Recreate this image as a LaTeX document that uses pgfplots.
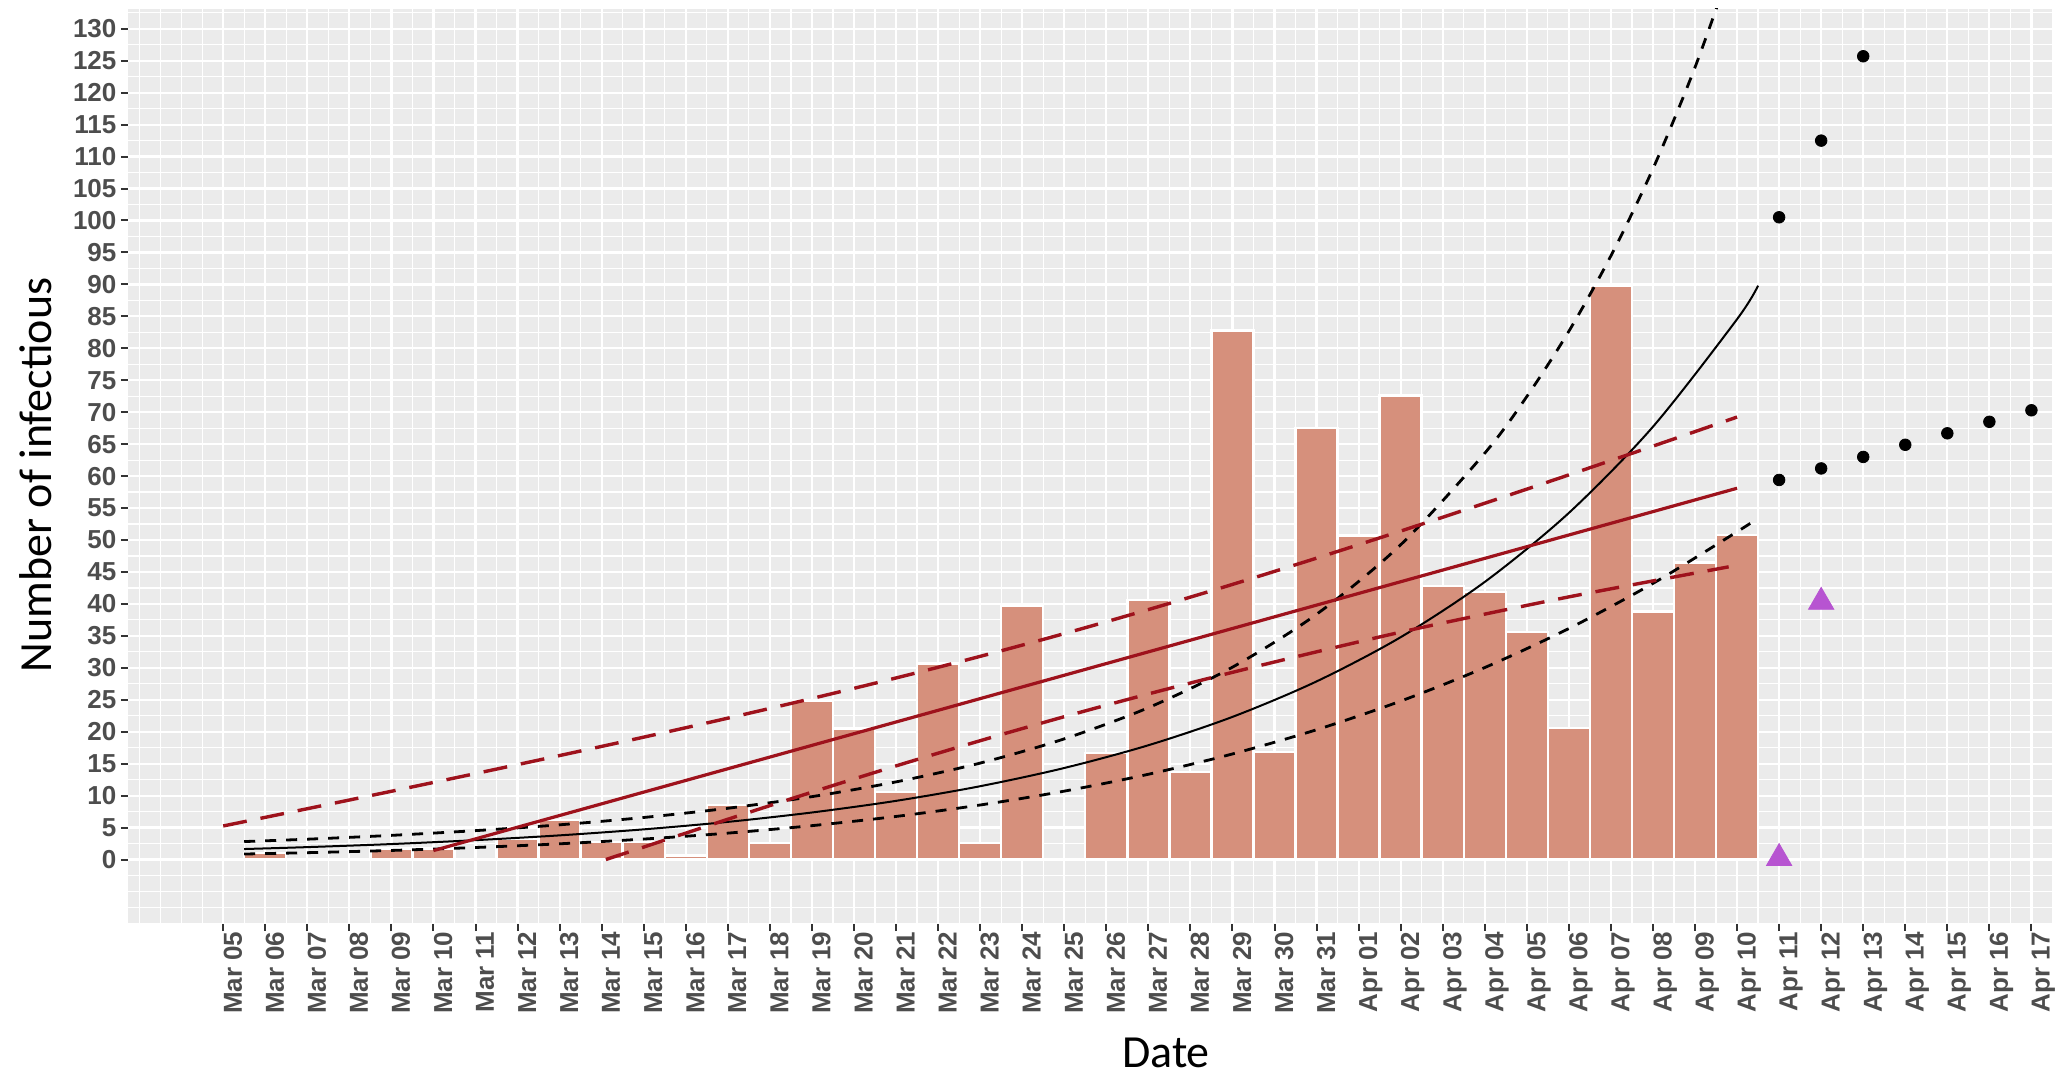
\documentclass[border=0pt]{standalone}
\usepackage{fontspec}
\setmainfont{Carlito}
\newfontfamily\tickfont{Liberation Sans}
\usepackage{pgfplots}
\pgfplotsset{compat=1.18}
\definecolor{panelbg}{RGB}{235,235,235}
\definecolor{barfill}{RGB}{214,144,124}
\definecolor{redline}{RGB}{158,18,28}
\definecolor{tickgray}{RGB}{77,77,77}
\definecolor{tickmark}{RGB}{51,51,51}
\definecolor{purp}{RGB}{183,84,209}
\begin{document}
\begin{tikzpicture}
\path[use as bounding box] (0,0) rectangle (1029.5pt,540pt);
\begin{axis}[
  at={(64pt,78pt)}, anchor=south west,
  scale only axis, width=962pt, height=457.5pt,
  xmin=-2.264, xmax=43.49, ymin=-10.09, ymax=133.1,
  axis background/.style={fill=panelbg},
  axis line style={draw=none},
  xtick={0,...,43},
  xticklabels={Mar 05,Mar 06,Mar 07,Mar 08,Mar 09,Mar 10,Mar 11,Mar 12,Mar 13,Mar 14,Mar 15,Mar 16,Mar 17,Mar 18,Mar 19,Mar 20,Mar 21,Mar 22,Mar 23,Mar 24,Mar 25,Mar 26,Mar 27,Mar 28,Mar 29,Mar 30,Mar 31,Apr 01,Apr 02,Apr 03,Apr 04,Apr 05,Apr 06,Apr 07,Apr 08,Apr 09,Apr 10,Apr 11,Apr 12,Apr 13,Apr 14,Apr 15,Apr 16,Apr 17},
  ytick={0,5,...,130},
  minor xtick={-2,-1.5,...,43.5},
  minor ytick={-10,-7.5,...,132.5},
  grid=both,
  major grid style={white, line width=1.1pt},
  minor grid style={white, line width=0.6pt},
  tick align=outside,
  xtick pos=bottom, ytick pos=left,
  major tick length=3.6pt,
  minor tick length=0pt,
  major tick style={tickmark, line width=1pt},
  minor tick style={draw=none},
  /pgf/number format/assume math mode=true,
  tick label style={font=\tickfont\bfseries\fontsize{13}{15.6}\selectfont, text=tickgray},
  xticklabel style={rotate=90, anchor=north east, inner sep=0pt},
  yticklabel style={inner sep=2pt},
  xlabel={Date},
  ylabel={Number of infectious},
  xlabel style={font=\fontsize{23}{24}\selectfont, at={(axis description cs:0.5395,-0.157)}, anchor=base, inner sep=0pt},
  ylabel style={font=\fontsize{23}{24}\selectfont, at={(axis description cs:-0.0395,0.4907)}, anchor=base, inner sep=0pt},
]
% daily bars
\addplot[ybar, bar width=1, bar shift=0pt, fill=barfill, draw=white, line width=1.2pt] coordinates {
(1,1.0) (4,1.7) (5,1.7) (7,3.2) (8,6.2) (9,2.7) (10,2.7) (11,0.6)
(12,8.5) (13,2.6) (14,24.9) (15,20.5) (16,10.6) (17,30.7) (18,2.6) (19,39.7)
(21,16.7) (22,40.6) (23,13.7) (24,82.8) (25,16.8) (26,67.5) (27,50.7) (28,72.6)
(29,42.8) (30,41.9) (31,35.6) (32,20.6) (33,89.8) (34,38.8) (35,46.5) (36,50.8)};
% exponential fit and bounds
\addplot[black, line width=1pt, smooth] coordinates {
(0.5,1.64) (2,1.94) (4,2.42) (6,3.03) (8,3.78) (10,4.72) (12,5.89) (14,7.36) (16,9.18) (18,11.47) (20,14.32) (22,17.88) (24,22.32) (26,27.87) (28,34.79) (30,43.44) (32,54.24) (34,67.73) (36,84.56) (36.5,89.8)};
\addplot[black, line width=1.4pt, dash pattern=on 5.5pt off 5pt, smooth] coordinates {
(0.5,2.81) (2,3.18) (4,3.78) (6,4.52) (8,5.43) (10,6.58) (12,8.02) (14,9.84) (16,12.15) (18,15.09) (20,18.88) (22,23.76) (24,30.10) (26,38.38) (28,49.25) (30,63.59) (31,72.45) (32,82.67) (33,94.47) (34,108.1) (35,123.97) (36,142.4)};
\addplot[black, line width=1.4pt, dash pattern=on 5.5pt off 5pt, smooth] coordinates {
(0.5,0.86) (2,1.07) (4,1.42) (6,1.88) (8,2.46) (10,3.20) (12,4.13) (14,5.30) (16,6.74) (18,8.53) (20,10.70) (22,13.34) (24,16.52) (26,20.31) (28,24.79) (30,30.04) (32,36.15) (34,43.21) (36,51.29) (36.4,53.0)};
% linear fit and bounds
\addplot[redline, line width=1.6pt] coordinates {(5,1.4) (36,58.1)};
\addplot[redline, line width=1.7pt, dash pattern=on 12pt off 7pt, smooth] coordinates {
(0,5.25) (2,7.95) (4,10.68) (6,13.45) (8,16.27) (10,19.15) (12,22.12) (14,25.20) (16,28.41) (18,31.79) (20,35.35) (22,39.11) (24,43.05) (26,47.16) (28,51.40) (30,55.75) (32,60.19) (34,64.69) (36,69.24)};
\addplot[redline, line width=1.7pt, dash pattern=on 12pt off 7pt, smooth] coordinates {
(9.1,0) (10,1.95) (12,6.30) (14,10.54) (16,14.65) (18,18.59) (20,22.35) (22,25.91) (24,29.29) (26,32.50) (28,35.58) (30,38.4) (32,41.1) (34,43.6) (35.8,45.8)};
% projections
\addplot[only marks, mark=*, mark size=2.9pt, black] coordinates {
(37,100.5) (38,112.5) (39,125.7) (37,59.4) (38,61.2) (39,63.0) (40,64.9) (41,66.7) (42,68.5) (43,70.3)};
\addplot[only marks, mark=triangle*, mark size=7.3pt, color=purp] coordinates {(37,0.2) (38,40.3)};
\end{axis}
\end{tikzpicture}
\end{document}
